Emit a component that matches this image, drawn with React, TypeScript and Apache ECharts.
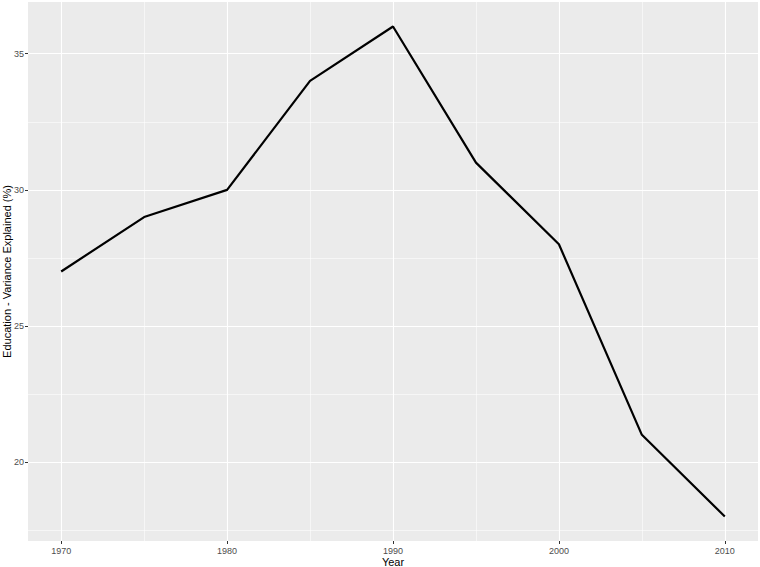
import React, { useEffect, useRef } from "react";
import * as echarts from "echarts";

const years = [1970, 1975, 1980, 1985, 1990, 1995, 2000, 2005, 2010];
const values = [27, 29, 30, 34, 36, 31, 28, 21, 18];
const xMajor = [1970, 1980, 1990, 2000, 2010];
const xMinor = [1975, 1985, 1995, 2005];
const yMajor = [20, 25, 30, 35];
const yMinor = [17.5, 22.5, 27.5, 32.5];

export default function App() {
  const ref = useRef<HTMLDivElement>(null);
  useEffect(() => {
    if (!ref.current) return;
    const chart = echarts.init(ref.current, null, { renderer: "svg" });
    const font = "'Liberation Sans', Arial, sans-serif";
    const gridLine = (w: number) => ({ color: "#FFFFFF", width: w, type: "solid" as const });
    chart.setOption({
      animation: false,
      grid: {
        left: 28,
        right: 2,
        top: 2,
        bottom: 26,
        show: true,
        backgroundColor: "#EBEBEB",
        borderWidth: 0,
        containLabel: false,
        outerBoundsMode: "none",
      },
      xAxis: {
        type: "value",
        min: 1968,
        max: 2012,
        name: "Year",
        nameLocation: "middle",
        nameGap: 15,
        nameMoveOverlap: false,
        nameTextStyle: { color: "#000", fontSize: 11, fontFamily: font },
        axisLine: { show: false },
        splitLine: { show: false },
        axisTick: { show: true, customValues: xMajor, length: 3, lineStyle: { color: "#333333", width: 1 } },
        axisLabel: {
          customValues: xMajor,
          formatter: (v: number) => String(v),
          color: "#4D4D4D",
          fontSize: 9,
          fontFamily: font,
          margin: 5,
        },
      },
      yAxis: {
        type: "value",
        min: 17.1,
        max: 36.9,
        name: "Education - Variance Explained (%)",
        nameLocation: "middle",
        nameGap: 16,
        nameMoveOverlap: false,
        nameTextStyle: { color: "#000", fontSize: 11, fontFamily: font },
        axisLine: { show: false },
        splitLine: { show: false },
        axisTick: { show: true, customValues: yMajor, length: 3, lineStyle: { color: "#333333", width: 1 } },
        axisLabel: {
          customValues: yMajor,
          formatter: (v: number) => String(v),
          color: "#4D4D4D",
          fontSize: 9,
          fontFamily: font,
          margin: 4,
        },
      },
      series: [
        {
          type: "line",
          data: years.map((y, i) => [y, values[i]]),
          z: 1,
          symbol: "none",
          lineStyle: { opacity: 0 },
          silent: true,
          markLine: {
            z: 1,
            silent: true,
            symbol: ["none", "none"],
            label: { show: false },
            data: [
              ...xMinor.map((v) => ({ xAxis: v, lineStyle: gridLine(0.55) })),
              ...yMinor.map((v) => ({ yAxis: v, lineStyle: gridLine(0.55) })),
              ...xMajor.map((v) => ({ xAxis: v, lineStyle: gridLine(1.1) })),
              ...yMajor.map((v) => ({ yAxis: v, lineStyle: gridLine(1.1) })),
            ],
          },
        },
        {
          type: "line",
          data: years.map((y, i) => [y, values[i]]),
          z: 10,
          symbol: "none",
          lineStyle: { color: "#000000", width: 2.2 },
        },
      ],
    });
    return () => chart.dispose();
  }, []);
  return <div ref={ref} style={{ width: 760, height: 567, position: "absolute", left: 0, top: 0 }} />;
}
